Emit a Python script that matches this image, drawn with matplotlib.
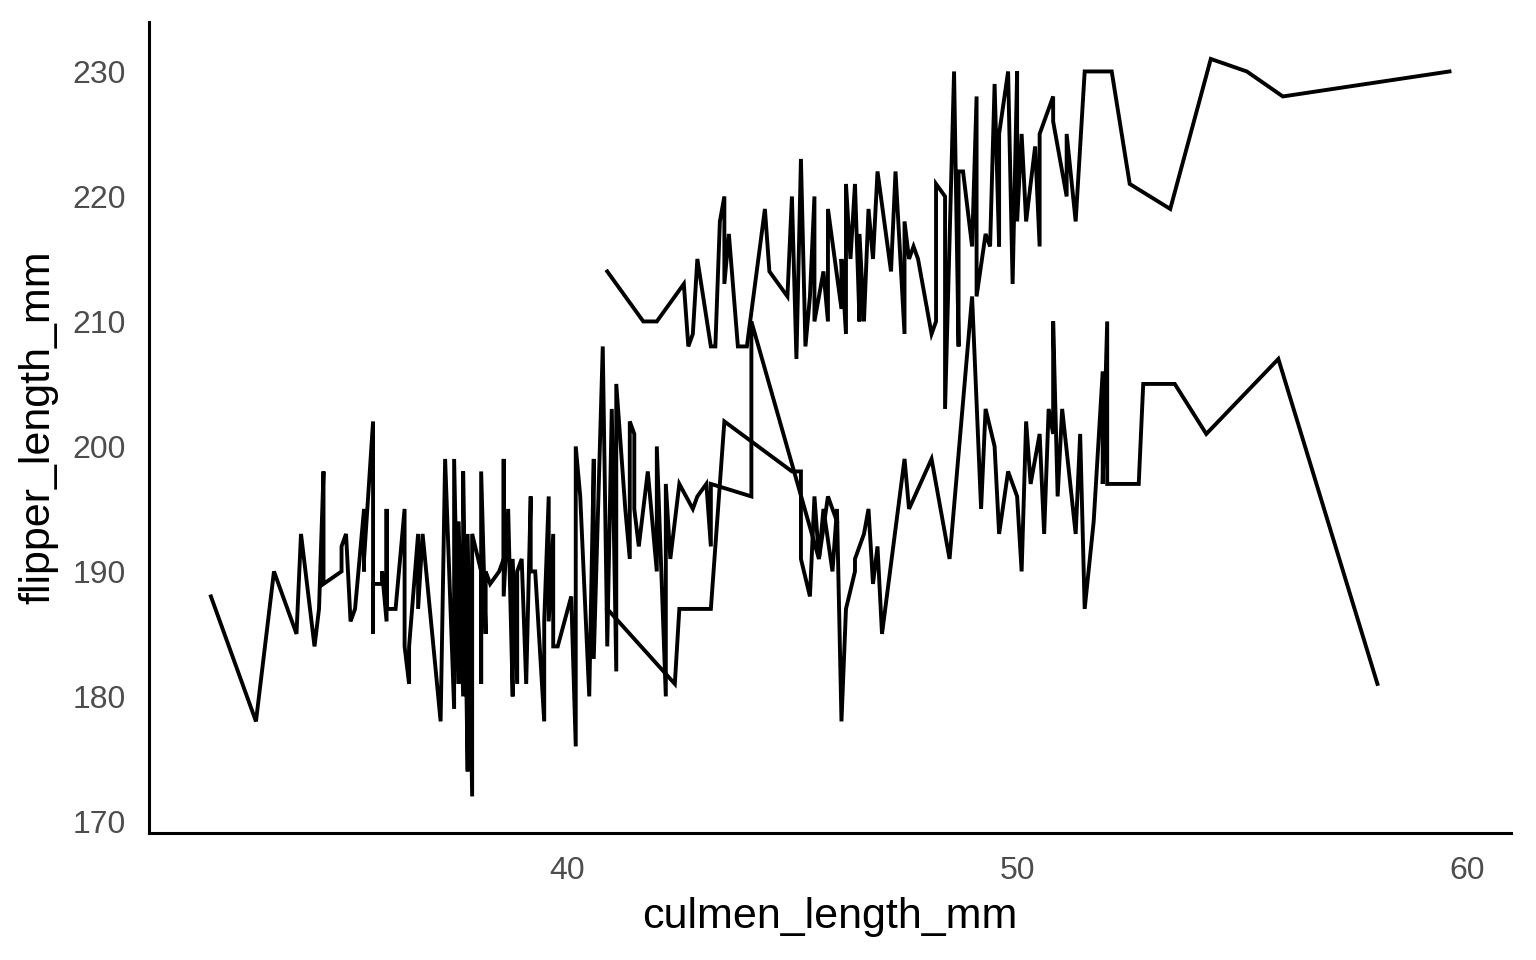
import matplotlib
matplotlib.use("Agg")
import matplotlib.pyplot as plt

# values (culmen length, flipper length)
adelie_x = [32.1, 33.1, 33.5, 34.0, 34.1, 34.4, 34.5, 34.6, 34.6, 35.0, 35.0, 35.1,
            35.2, 35.3, 35.5, 35.5, 35.5, 35.7, 35.7, 35.7, 35.9, 35.9, 36.0, 36.0,
            36.0, 36.2, 36.4, 36.4, 36.5, 36.5, 36.7, 36.7, 36.8, 37.2, 37.3, 37.5,
            37.5, 37.6, 37.6, 37.7, 37.7, 37.8, 37.8, 37.9, 37.9, 38.1, 38.1, 38.1,
            38.2, 38.2, 38.3, 38.5, 38.6, 38.6, 38.6, 38.7, 38.8, 38.8, 38.9, 38.9,
            39.0, 39.1, 39.2, 39.2, 39.3, 39.5, 39.5, 39.6, 39.6, 39.7, 39.7, 39.8,
            40.1, 40.2, 40.2, 40.3, 40.5, 40.6, 40.6, 40.8, 40.9, 41.0, 41.1, 41.1,
            41.3, 41.4, 41.4, 41.5, 41.5, 41.6, 41.8, 42.0, 42.0, 42.2, 42.2, 42.3,
            42.5, 42.8, 42.9, 43.1, 43.2, 43.2, 44.1, 44.1, 45.6, 45.8, 46.0]
adelie_y = [188, 178, 190, 185, 193, 184, 187, 198, 189, 190, 192, 193,
            186, 187, 195, 190, 191, 202, 185, 189, 189, 190, 186, 195,
            187, 187, 195, 184, 181, 184, 193, 187, 193, 178, 199, 179,
            199, 181, 194, 180, 198, 174, 193, 172, 193, 190, 181, 198,
            185, 190, 189, 190, 191, 199, 188, 195, 180, 191, 181, 190,
            191, 181, 196, 190, 190, 178, 186, 196, 186, 193, 184, 184,
            188, 176, 200, 196, 180, 199, 183, 208, 184, 203, 182, 205,
            195, 191, 202, 201, 195, 192, 198, 190, 200, 180, 197, 191,
            197, 195, 196, 197, 192, 197, 196, 210, 191, 196, 194]

chinstrap_x = [40.9, 42.4, 42.5, 43.2, 43.5, 45.0, 45.2, 45.2, 45.4, 45.5, 45.6, 45.7,
               45.9, 46.0, 46.1, 46.2, 46.4, 46.4, 46.6, 46.7, 46.8, 46.9, 47.0, 47.5,
               47.6, 48.1, 48.5, 49.0, 49.2, 49.3, 49.5, 49.6, 49.8, 50.0, 50.1, 50.2,
               50.3, 50.5, 50.6, 50.7, 50.8, 50.8, 50.9, 51.0, 51.3, 51.4, 51.5, 51.7,
               51.9, 51.9, 52.0, 52.0, 52.7, 52.8, 53.5, 54.2, 55.8, 58.0]
chinstrap_y = [187, 181, 187, 187, 202, 198, 198, 191, 188, 196, 191, 195,
               190, 195, 178, 187, 190, 191, 193, 195, 189, 192, 185, 199,
               195, 199, 191, 212, 195, 203, 200, 193, 198, 196, 190, 202,
               197, 201, 193, 203, 201, 210, 196, 203, 193, 201, 187, 194,
               206, 197, 210, 197, 197, 205, 205, 201, 207, 181]

gentoo_x = [40.9, 41.7, 42.0, 42.6, 42.7, 42.8, 42.9, 43.2, 43.3, 43.4, 43.5, 43.5,
            43.6, 43.8, 44.0, 44.4, 44.5, 44.9, 45.0, 45.1, 45.2, 45.3, 45.4, 45.5,
            45.5, 45.7, 45.8, 45.8, 46.1, 46.1, 46.2, 46.2, 46.3, 46.4, 46.5, 46.5,
            46.6, 46.7, 46.8, 46.9, 47.2, 47.3, 47.5, 47.5, 47.6, 47.7, 47.8, 48.1,
            48.2, 48.2, 48.4, 48.4, 48.6, 48.7, 48.7, 48.8, 49.0, 49.1, 49.1, 49.3,
            49.4, 49.5, 49.6, 49.6, 49.8, 49.9, 50.0, 50.0, 50.1, 50.2, 50.4, 50.5,
            50.5, 50.8, 50.8, 51.1, 51.1, 51.3, 51.5, 52.1, 52.5, 53.4, 54.3, 55.1,
            55.9, 59.6]
gentoo_y = [214, 210, 210, 213, 208, 209, 215, 208, 208, 218, 220, 213,
            217, 208, 208, 219, 214, 212, 220, 207, 223, 208, 212, 220,
            210, 214, 210, 219, 211, 215, 209, 221, 215, 221, 210, 217,
            210, 219, 215, 222, 214, 222, 209, 218, 215, 216, 215, 209,
            210, 221, 220, 203, 230, 208, 222, 222, 216, 228, 212, 217,
            216, 229, 216, 225, 230, 213, 230, 218, 225, 218, 224, 216,
            225, 228, 226, 220, 225, 218, 230, 230, 221, 219, 231, 230,
            228, 230]

plt.rcParams['font.family'] = ['Liberation Sans', 'DejaVu Sans']

fig = plt.figure(figsize=(15.36, 9.6), dpi=100)
ax = fig.add_axes([0.097, 0.132, 0.887, 0.845])

for xs, ys in [(adelie_x, adelie_y), (chinstrap_x, chinstrap_y), (gentoo_x, gentoo_y)]:
    ax.plot(xs, ys, color='black', lw=2.8, solid_joinstyle='miter')

ax.margins(0.05)
ax.set_xticks([40, 50, 60])
ax.set_yticks([170, 180, 190, 200, 210, 220, 230])

for side in ['top', 'right']:
    ax.spines[side].set_visible(False)
for side in ['left', 'bottom']:
    ax.spines[side].set_linewidth(2.2)
    ax.spines[side].set_color('black')

ax.tick_params(length=0, labelsize=23, labelcolor='#4D4D4D')
ax.tick_params(axis='y', pad=17)
ax.tick_params(axis='x', pad=16)

ax.set_xlabel('culmen_length_mm', fontsize=31, labelpad=8)
ax.set_ylabel('flipper_length_mm', fontsize=31, labelpad=10)

fig.savefig('out.png', dpi=100)
